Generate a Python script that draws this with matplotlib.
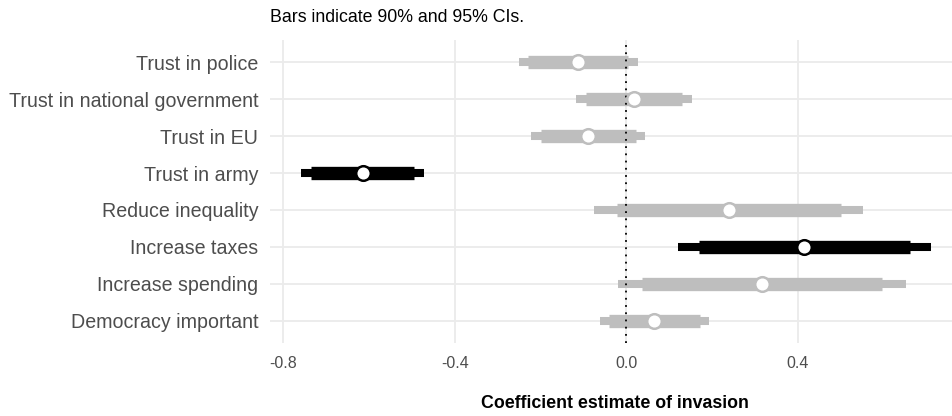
import matplotlib
matplotlib.use('Agg')
import matplotlib.pyplot as plt
from matplotlib import font_manager

# font: narrow sans if we have it
names = set(f.name for f in font_manager.fontManager.ttflist)
narrow = 'Liberation Sans Narrow' in names
fam = 'Liberation Sans Narrow' if narrow else 'Liberation Sans'
plt.rcParams['font.family'] = [fam, 'DejaVu Sans']

# data (top to bottom)
labels = ['Trust in police', 'Trust in national government', 'Trust in EU', 'Trust in army',
          'Reduce inequality', 'Increase taxes', 'Increase spending', 'Democracy important']
estimate = [-0.113, 0.018, -0.089, -0.615, 0.239, 0.414, 0.317, 0.065]
lo95 = [-0.251, -0.117, -0.221, -0.758, -0.074, 0.120, -0.020, -0.061]
hi95 = [0.027, 0.153, 0.044, -0.471, 0.552, 0.711, 0.653, 0.194]
lo90 = [-0.228, -0.093, -0.198, -0.735, -0.022, 0.169, 0.036, -0.040]
hi90 = [0.004, 0.131, 0.023, -0.496, 0.501, 0.661, 0.596, 0.173]
significant = [False, False, False, True, False, True, False, False]

W, H = 952, 416
fig = plt.figure(figsize=(W / 100, H / 100), dpi=100)
ax = fig.add_axes([270 / W, (H - 343) / H, (952 - 270) / W, (343 - 40) / H])

n = len(labels)
ypos = list(range(n - 1, -1, -1))

for i in range(n):
    col = 'black' if significant[i] else '#BEBEBE'
    y = ypos[i]
    ax.plot([lo95[i], hi95[i]], [y, y], color=col, lw=5.8, solid_capstyle='butt', zorder=3)
    ax.plot([lo90[i], hi90[i]], [y, y], color=col, lw=9.6, solid_capstyle='butt', zorder=3)
    ax.plot(estimate[i], y, 'o', ms=10.5, mfc='white', mec=col, mew=1.8, zorder=5)

ax.axvline(0, color='black', ls=(0, (1, 3)), lw=1.3, zorder=4)

ax.set_xlim(-0.831, 0.76)
ax.set_ylim(-0.6, n - 1 + 0.6)
ax.set_xticks([-0.8, -0.4, 0.0, 0.4])
ax.set_xticklabels(['-0.8', '-0.4', '0.0', '0.4'])
ax.set_yticks(ypos)
ax.set_yticklabels(labels)
ax.tick_params(axis='y', length=0, pad=8.5, labelsize=15.5 if narrow else 14.1, labelcolor='#4D4D4D')
ax.tick_params(axis='x', length=0, pad=9, labelsize=11.5, labelcolor='#4D4D4D')
ax.grid(True, color='#EBEBEB', lw=1.3, zorder=0)
ax.set_axisbelow(True)
for s in ax.spines.values():
    s.set_visible(False)

fig.text(270 / W, 1 - 18 / H, 'Bars indicate 90% and 95% CIs.', ha='left', va='center', fontsize=12.8, color='black')
fig.text(615 / W, 1 - 404 / H, 'Coefficient estimate of invasion', ha='center', va='center',
         fontsize=12.8, fontweight='bold', color='black')

fig.savefig('out.png', dpi=100)
